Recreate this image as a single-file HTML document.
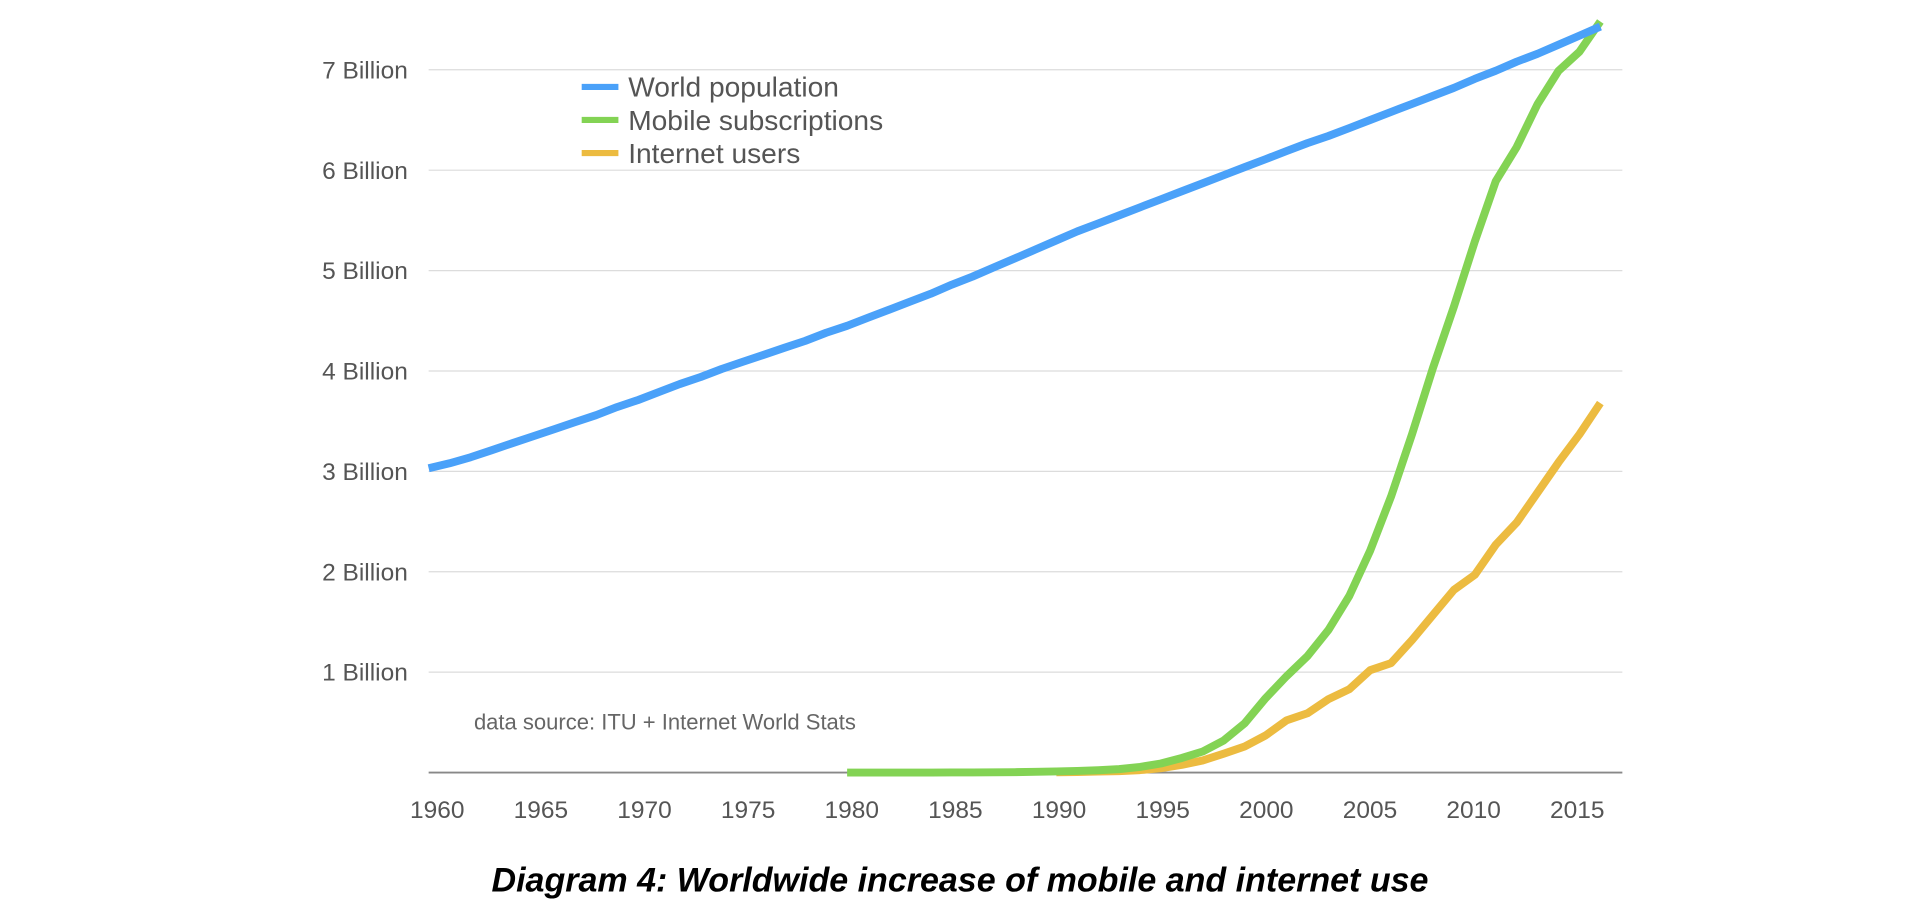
<!DOCTYPE html>
<html><head><meta charset="utf-8"><style>
html,body{margin:0;padding:0;background:#fff;}
svg{display:block;font-family:"Liberation Sans",sans-serif;}
</style></head><body>
<svg id="chart" width="1920" height="906" viewBox="0 0 1568 740" xmlns="http://www.w3.org/2000/svg">
<g id="grid"></g>
<g id="series"></g>
<g id="legend">
  <line x1="475" y1="71" x2="505" y2="71" stroke="#4aa1f9" stroke-width="5"/>
  <text x="513" y="79" font-size="23" fill="#555">World population</text>
  <line x1="475" y1="98" x2="505" y2="98" stroke="#83d354" stroke-width="5"/>
  <text x="513" y="106" font-size="23" fill="#555">Mobile subscriptions</text>
  <line x1="475" y1="125" x2="505" y2="125" stroke="#ecbb40" stroke-width="5"/>
  <text x="513" y="133" font-size="23" fill="#555">Internet users</text>
</g>
<text x="387" y="596" font-size="18" fill="#666">data source: ITU + Internet World Stats</text>
<text x="784" y="728" font-size="27.8" font-weight="bold" font-style="italic" text-anchor="middle" fill="#000">Diagram 4: Worldwide increase of mobile and internet use</text>
</svg>
<script>
const popYears = [1960,1961,1962,1963,1964,1965,1966,1967,1968,1969,1970,1971,1972,1973,1974,1975,1976,1977,1978,1979,1980,1981,1982,1983,1984,1985,1986,1987,1988,1989,1990,1991,1992,1993,1994,1995,1996,1997,1998,1999,2000,2001,2002,2003,2004,2005,2006,2007,2008,2009,2010,2011,2012,2013,2014,2015,2016];
const population = [3.03,3.08,3.14,3.21,3.28,3.35,3.42,3.49,3.56,3.64,3.71,3.79,3.87,3.94,4.02,4.09,4.16,4.23,4.30,4.38,4.45,4.53,4.61,4.69,4.77,4.86,4.94,5.03,5.12,5.21,5.30,5.39,5.47,5.55,5.63,5.71,5.79,5.87,5.95,6.03,6.11,6.19,6.27,6.34,6.42,6.50,6.58,6.66,6.74,6.82,6.91,6.99,7.08,7.16,7.25,7.34,7.43];
const mobileYears = [1980,1981,1982,1983,1984,1985,1986,1987,1988,1989,1990,1991,1992,1993,1994,1995,1996,1997,1998,1999,2000,2001,2002,2003,2004,2005,2006,2007,2008,2009,2010,2011,2012,2013,2014,2015,2016];
const mobile = [0.00002,0.0001,0.0002,0.0003,0.0005,0.0009,0.0014,0.0025,0.004,0.007,0.011,0.016,0.023,0.034,0.056,0.09,0.145,0.21,0.32,0.49,0.74,0.96,1.16,1.42,1.76,2.21,2.75,3.37,4.03,4.64,5.29,5.89,6.23,6.66,6.99,7.18,7.48];
const internetYears = [1990,1991,1992,1993,1994,1995,1996,1997,1998,1999,2000,2001,2002,2003,2004,2005,2006,2007,2008,2009,2010,2011,2012,2013,2014,2015,2016];
const internet = [0.0026,0.0044,0.010,0.014,0.025,0.044,0.077,0.121,0.188,0.26,0.37,0.52,0.59,0.73,0.83,1.02,1.09,1.32,1.57,1.82,1.97,2.27,2.49,2.79,3.09,3.37,3.68];
const yTicks = [1,2,3,4,5,6,7];
const yTickLabels = ["1 Billion","2 Billion","3 Billion","4 Billion","5 Billion","6 Billion","7 Billion"];
const xTicks = [1960,1965,1970,1975,1980,1985,1990,1995,2000,2005,2010,2015];

const NS="http://www.w3.org/2000/svg";
function x(yr){return 350+(yr-1960)*17.09;}
function xl(yr){return 357+(yr-1960)*16.93;}
function y(v){return 631-v*82;}
const grid=document.getElementById('grid');
const ser=document.getElementById('series');

yTicks.forEach((t,i)=>{
  const l=document.createElementNS(NS,'line');
  l.setAttribute('x1',350);l.setAttribute('x2',1325);
  l.setAttribute('y1',y(t));l.setAttribute('y2',y(t));
  l.setAttribute('stroke','#dcdcdc');l.setAttribute('stroke-width','1');
  
  
  grid.appendChild(l);
  const tx=document.createElementNS(NS,'text');
  tx.setAttribute('x',333);tx.setAttribute('y',y(t)+7);
  tx.setAttribute('text-anchor','end');tx.setAttribute('font-size','20');tx.setAttribute('fill','#555');
  tx.textContent=yTickLabels[i];
  
  
  grid.appendChild(tx);
});
const ax=document.createElementNS(NS,'line');
ax.setAttribute('x1',350);ax.setAttribute('x2',1325);ax.setAttribute('y1',y(0));ax.setAttribute('y2',y(0));
ax.setAttribute('stroke','#888');ax.setAttribute('stroke-width','1.5');


grid.appendChild(ax);
xTicks.forEach(t=>{
  const tx=document.createElementNS(NS,'text');
  tx.setAttribute('x',xl(t));tx.setAttribute('y',668);
  tx.setAttribute('text-anchor','middle');tx.setAttribute('font-size','20');tx.setAttribute('fill','#555');
  tx.textContent=t;
  
  
  grid.appendChild(tx);
});
function drawLine(years,vals,color,name){
  const p=document.createElementNS(NS,'polyline');
  p.setAttribute('points',years.map((yr,i)=>x(yr).toFixed(1)+','+y(vals[i]).toFixed(1)).join(' '));
  p.setAttribute('fill','none');p.setAttribute('stroke',color);p.setAttribute('stroke-width','6.5');
  p.setAttribute('stroke-linejoin','round');
  
  
  ser.appendChild(p);
}
drawLine(internetYears,internet,'#ecbb40','internet-users-line');
drawLine(mobileYears,mobile,'#83d354','mobile-subscriptions-line');
drawLine(popYears,population,'#4aa1f9','world-population-line');
</script>
</body></html>
